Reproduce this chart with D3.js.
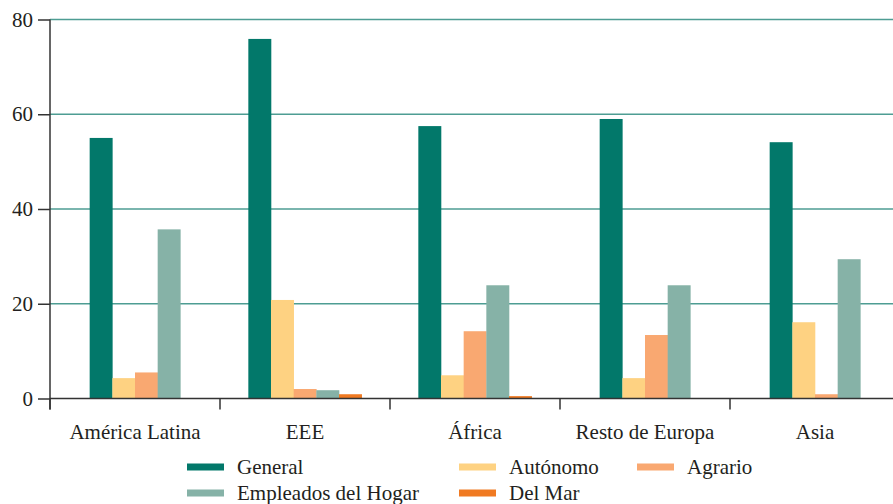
<!DOCTYPE html>
<html>
<head>
<meta charset="utf-8">
<script src="https://d3js.org/d3.v7.min.js"></script>
<style>
  body { margin: 0; background: #fff; }
</style>
</head>
<body>
<svg id="chart" width="893" height="504"></svg>
<script>
  const categories = ["América Latina", "EEE", "África", "Resto de Europa", "Asia"];
  const seriesNames = ["General", "Autónomo", "Agrario", "Empleados del Hogar", "Del Mar"];
  const general   = [55, 75.9, 57.5, 59, 54.1];
  const autonomo  = [4.3, 20.8, 4.9, 4.3, 16.1];
  const agrario   = [5.5, 2.0, 14.2, 13.4, 0.9];
  const empleados = [35.7, 1.75, 23.9, 23.9, 29.4];
  const delMar    = [null, 0.9, 0.5, null, null];
  const yTicks = [0, 20, 40, 60, 80];
  const colors = ["#02786a", "#fed282", "#f9a871", "#86b2a7", "#f07a22"];

  const values = [general, autonomo, agrario, empleados, delMar];
  const FONT = "'Liberation Serif', 'Times New Roman', Times, serif";

  const svg = d3.select("#chart");
  const mLeft = 50, mRight = 900, mTop = 19.5, mBottom = 398.5;

  const x = d3.scaleBand().domain(categories).range([mLeft, mRight]).padding(0);
  const y = d3.scaleLinear().domain([0, 80]).range([mBottom, mTop]);
  const color = d3.scaleOrdinal().domain(seriesNames).range(colors);
  const barW = x.bandwidth() * 2 / 15;

  // gridlines
  svg.append("g")
    .selectAll("line")
    .data(yTicks.filter(d => d > 0))
    .join("line")
      .attr("x1", mLeft).attr("x2", 893)
      .attr("y1", d => y(d)).attr("y2", d => y(d))
      .attr("stroke", "#4e9d93")
      .attr("stroke-width", 1.6);

  // bars: only series with a value in the group, centred in the band
  categories.forEach((cat, i) => {
    const present = seriesNames.filter((s, j) => values[j][i] != null);
    const c = x(cat) + x.bandwidth() / 2;
    const inner = d3.scaleBand().domain(present)
      .range([c - present.length * barW / 2, c + present.length * barW / 2]);
    svg.append("g")
      .selectAll("rect")
      .data(present.map(s => ({ s, v: values[seriesNames.indexOf(s)][i] })))
      .join("rect")
        .attr("x", d => inner(d.s))
        .attr("width", inner.bandwidth() + 0.3)
        .attr("y", d => y(d.v))
        .attr("height", d => y(0) - y(d.v))
        .attr("fill", d => color(d.s));
  });

  // y axis
  const yAxis = svg.append("g")
    .attr("transform", `translate(${mLeft},0)`)
    .call(d3.axisLeft(y).tickValues(yTicks).tickSize(12).tickPadding(5).tickFormat(d3.format("d")));
  yAxis.select(".domain").remove();
  yAxis.selectAll(".tick line").attr("stroke", "#333").attr("stroke-width", 1.5);
  yAxis.selectAll(".tick text").attr("font-size", 21);
  yAxis.append("line")
    .attr("x1", 0).attr("x2", 0).attr("y1", mTop).attr("y2", mBottom + 11)
    .attr("stroke", "#333").attr("stroke-width", 1.5);

  // x axis
  const xAxis = svg.append("g")
    .attr("transform", `translate(0,${mBottom})`);
  xAxis.append("line")
    .attr("x1", mLeft).attr("x2", 893)
    .attr("stroke", "#333").attr("stroke-width", 1.5);
  xAxis.selectAll(".cat-tick")
    .data(categories)
    .join("line")
      .attr("class", "cat-tick")
      .attr("x1", d => x(d)).attr("x2", d => x(d))
      .attr("y1", 0).attr("y2", 11)
      .attr("stroke", "#333").attr("stroke-width", 1.5);
  xAxis.selectAll("text")
    .data(categories)
    .join("text")
      .attr("x", d => x(d) + x.bandwidth() / 2)
      .attr("y", 40)
      .attr("text-anchor", "middle")
      .attr("font-size", 21)
      .text(d => d);

  // legend
  const legendPos = [
    { x: 187, y: 467 }, { x: 459, y: 467 }, { x: 637, y: 467 },
    { x: 187, y: 493 }, { x: 459, y: 493 }
  ];
  const legend = svg.append("g")
    .selectAll("g")
    .data(seriesNames)
    .join("g")
      .attr("transform", (d, i) => `translate(${legendPos[i].x},${legendPos[i].y})`);
  legend.append("rect")
    .attr("x", 0).attr("y", -3.5)
    .attr("width", 37).attr("height", 7)
    .attr("fill", d => color(d));
  legend.append("text")
    .attr("x", 50).attr("y", 7)
    .attr("font-size", 21)
    .text(d => d);

  svg.selectAll("text")
    .attr("font-family", FONT)
    .style("font-family", FONT)
    .attr("fill", "#231f20");
</script>
</body>
</html>
